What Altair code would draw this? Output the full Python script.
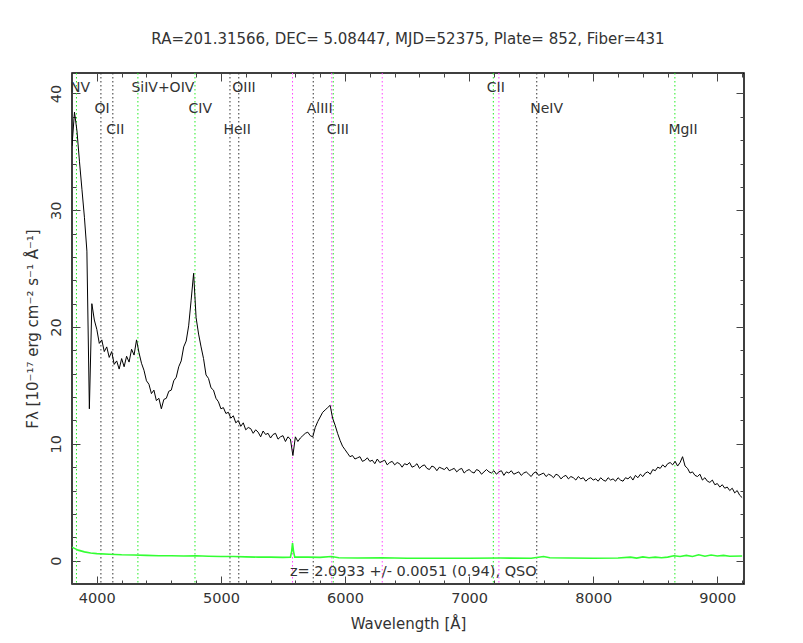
import altair as alt
import pandas as pd

# ---------------- data ----------------
# flux sampled every 20 Angstrom starting at 3800
flux = [
    35.5, 38.4, 36.8, 34.2, 31.8, 29.4, 26.5, 13.0, 22.0, 20.6,
    19.8, 18.6, 18.9, 17.9, 18.3, 17.4, 17.9, 16.8, 17.1, 16.4,
    17.3, 16.6, 17.5, 17.0, 18.1, 17.6, 18.9, 17.8, 16.9, 16.3,
    15.4, 15.1, 14.3, 14.6, 13.7, 13.9, 13.0, 13.8, 13.9, 14.5,
    14.6, 15.4, 15.7, 16.6, 17.1, 18.3, 18.8, 20.1, 22.3, 24.6,
    20.8, 19.4, 18.3, 17.3, 15.9, 15.6, 14.8, 14.6, 13.9, 13.6,
    13.0, 13.1, 12.6, 12.7, 12.2, 12.4, 11.8, 12.0, 11.5, 11.8,
    11.2, 11.4, 11.3, 10.9, 11.2, 11.0, 10.6, 11.1, 10.8, 10.9,
    10.5, 10.8, 10.9, 10.4, 10.6, 10.7, 10.2, 10.6, 10.4, 9.0,
    10.6, 10.2, 10.5, 10.7, 10.9, 11.0, 10.7, 10.6, 11.4, 11.9,
    12.3, 12.7, 12.9, 13.1, 13.3, 12.2, 11.6, 10.9, 10.3, 9.8,
    9.5, 9.2, 8.9, 9.0, 8.7, 8.8, 8.9, 8.5, 8.6, 8.8,
    8.5, 8.6, 8.3, 8.7, 8.4, 8.5, 8.6, 8.2, 8.4, 8.5,
    8.2, 8.4, 8.3, 8.0, 8.3, 8.2, 8.4, 8.0, 8.1, 8.3,
    7.9, 8.1, 8.2, 7.9, 7.8, 8.1, 8.0, 7.7, 8.0, 7.9,
    7.8, 8.0, 7.7, 7.8, 7.9, 7.6, 7.8, 7.9, 7.5, 7.7,
    7.8, 7.6, 7.5, 7.8, 7.7, 7.4, 7.6, 7.8, 7.6, 7.5,
    7.7, 7.4, 7.6, 7.7, 7.3, 7.6, 7.5, 7.7, 7.4, 7.5,
    7.6, 7.3, 7.5, 7.6, 7.4, 7.2, 7.5, 7.6, 7.3, 7.4,
    7.5, 7.2, 7.4, 7.3, 7.1, 7.4, 7.3, 7.0, 7.2, 7.3,
    7.0, 7.2, 7.1, 6.9, 7.2, 7.0, 7.1, 6.8, 7.0, 7.1,
    6.9, 7.0, 6.8, 7.1, 6.9, 6.8, 7.1, 6.9, 7.0, 6.8,
    7.1, 6.9, 6.8, 7.1, 7.0, 7.2, 6.9, 7.3, 7.1, 7.4,
    7.2, 7.5, 7.6, 7.4, 7.8, 7.7, 8.0, 7.9, 8.2, 8.0,
    8.3, 8.4, 8.2, 8.5, 8.1, 8.4, 8.9, 8.1, 7.9, 7.5,
    7.6, 7.3, 7.2, 7.4, 6.9, 7.1, 6.8, 6.7, 6.9, 6.5,
    6.6, 6.3, 6.5, 6.2, 6.3, 6.0, 6.2, 5.8, 6.0, 5.6,
    5.4,
]
wavelength = list(range(3800, 3800 + 20 * len(flux), 20))

err_wave = [3800, 3820, 3850, 3900, 3950, 4000, 4100, 4200, 4300, 4400,
            4500, 4600, 4700, 4800, 4900, 5000, 5100, 5200, 5300, 5400,
            5500, 5560, 5570, 5577, 5585, 5595, 5700, 5800, 5890, 5950,
            6100, 6300, 6500, 7000, 7250, 7500, 7600, 7650, 7800, 8000,
            8200, 8300, 8350, 8400, 8450, 8500, 8550, 8600, 8650, 8700,
            8750, 8800, 8850, 8900, 8950, 9000, 9050, 9100, 9200]
err_flux = [1.15, 1.05, 0.9, 0.75, 0.65, 0.6, 0.55, 0.5, 0.48, 0.45,
            0.42, 0.42, 0.4, 0.42, 0.38, 0.35, 0.35, 0.32, 0.3, 0.3,
            0.28, 0.3, 0.8, 1.5, 0.8, 0.3, 0.3, 0.28, 0.35, 0.25,
            0.22, 0.25, 0.2, 0.2, 0.22, 0.2, 0.35, 0.25, 0.22, 0.2,
            0.22, 0.3, 0.22, 0.32, 0.25, 0.3, 0.25, 0.3, 0.42, 0.35,
            0.45, 0.35, 0.5, 0.38, 0.48, 0.4, 0.45, 0.38, 0.4]

line_names = ["NV", "OI", "CII", "SiIV+OIV", "CIV", "HeII", "OIII",
              "AlIII", "CIII", "CII", "NeIV", "MgII"]
line_waves = [3836, 4033, 4129, 4331, 4791, 5073, 5144, 5744, 5905,
              7195, 7545, 8658]
line_kind = ["em", "ab", "ab", "em", "em", "ab", "ab", "ab", "em",
             "em", "ab", "em"]
line_row = [0, 1, 2, 0, 1, 2, 0, 1, 2, 0, 1, 2]

sky_waves = [5577, 5893, 6300, 7240]

title_text = "RA=201.31566, DEC= 5.08447, MJD=52375, Plate= 852, Fiber=431"
z_text = ["z= 2.0933 +/- 0.0051 (0.94), QSO"]
x_title = "Wavelength [Å]"
y_title = "Fλ [10⁻¹⁷ erg cm⁻² s⁻¹ Å⁻¹]"

major_x = [4000, 5000, 6000, 7000, 8000, 9000]
minor_x = list(range(3800, 9201, 200))
major_y = [0, 10, 20, 30, 40]
minor_y = list(range(-2, 42, 2))

# ---------------- tables ----------------
spec_df = pd.DataFrame({"wave": wavelength, "flux": flux})
err_df = pd.DataFrame({"wave": err_wave, "flux": err_flux})
lines_df = pd.DataFrame({"wave": line_waves, "name": line_names,
                         "kind": line_kind, "row": line_row})
sky_df = pd.DataFrame({"wave": sky_waves, "kind": ["sky"] * len(sky_waves)})
rules_df = pd.concat([lines_df[["wave", "kind"]], sky_df], ignore_index=True)
z_df = pd.DataFrame({"wave": [6550], "flux": [-1.0], "label": z_text})

FONT = "DejaVu Sans"
W, H = 672, 511
xs = alt.Scale(domain=[3800, 9215], nice=False, zero=False)
ys = alt.Scale(domain=[-2.0, 41.75], nice=False, zero=False)


def tick_axis(orient, values, size):
    return alt.Axis(orient=orient, values=values, tickSize=size, offset=-size,
                    labels=False, domain=False, grid=False, title=None)


rules = alt.Chart(rules_df).mark_rule(strokeWidth=1, strokeDash=[1.5, 2.5]).encode(
    x=alt.X("wave:Q", scale=xs, axis=tick_axis("top", major_x, 8)),
    color=alt.Color("kind:N", legend=None,
                    scale=alt.Scale(domain=["em", "ab", "sky"],
                                    range=["#22ee22", "#333333", "#ff44ff"])),
)

err = alt.Chart(err_df).mark_line(color="#33ff33", strokeWidth=1.6, clip=True).encode(
    x=alt.X("wave:Q", scale=xs, axis=tick_axis("bottom", minor_x, 4)),
    y=alt.Y("flux:Q", scale=ys, axis=tick_axis("left", minor_y, 4)),
)

spec = alt.Chart(spec_df).mark_line(color="black", strokeWidth=1.0, clip=True).encode(
    x=alt.X("wave:Q", scale=xs,
            axis=alt.Axis(orient="bottom", values=major_x, tickSize=8, offset=-8,
                          format="d", labelPadding=7, title=x_title, titlePadding=12,
                          domain=False, grid=False)),
    y=alt.Y("flux:Q", scale=ys,
            axis=alt.Axis(orient="left", values=major_y, tickSize=8, offset=-8,
                          format="d", labelAngle=-90, labelAlign="center",
                          labelBaseline="bottom", labelPadding=9,
                          title=y_title, titlePadding=8, domain=False, grid=False)),
)

labels = alt.Chart(lines_df).transform_calculate(
    ly="40.5 - 1.8 * datum.row"
).mark_text(font=FONT, fontSize=14, color="#333333", align="left",
            baseline="middle", dx=-6.5).encode(
    x=alt.X("wave:Q", scale=xs, axis=tick_axis("top", minor_x, 4)),
    y=alt.Y("ly:Q", scale=ys, axis=tick_axis("right", major_y, 8)),
    text="name:N",
)

zlab = alt.Chart(z_df).mark_text(font=FONT, fontSize=14.5, color="#333333",
                                 align="center", baseline="middle").encode(
    x=alt.X("wave:Q", scale=xs, axis=None),
    y=alt.Y("flux:Q", scale=ys, axis=tick_axis("right", minor_y, 4)),
    text="label:N",
)

chart = alt.layer(rules, err, spec, labels, zlab).resolve_axis(
    x="independent", y="independent"
).properties(
    width=W, height=H,
    autosize=alt.AutoSizeParams(type="none"),
    padding={"left": 64, "top": 65, "right": 51, "bottom": 52},
    background="white",
    title=alt.TitleParams(title_text, font=FONT, fontSize=15, fontWeight="normal",
                          color="#333333", anchor="middle", frame="group", offset=26),
).configure_view(
    stroke="black", strokeWidth=1.5
).configure_axis(
    tickColor="#444444", labelColor="#333333", titleColor="#333333",
    labelFont=FONT, titleFont=FONT, labelFontSize=14.5, titleFontSize=15,
    titleFontWeight="normal", tickWidth=1,
)

chart.save("out.html", embed_options={"renderer": "svg", "actions": False})
